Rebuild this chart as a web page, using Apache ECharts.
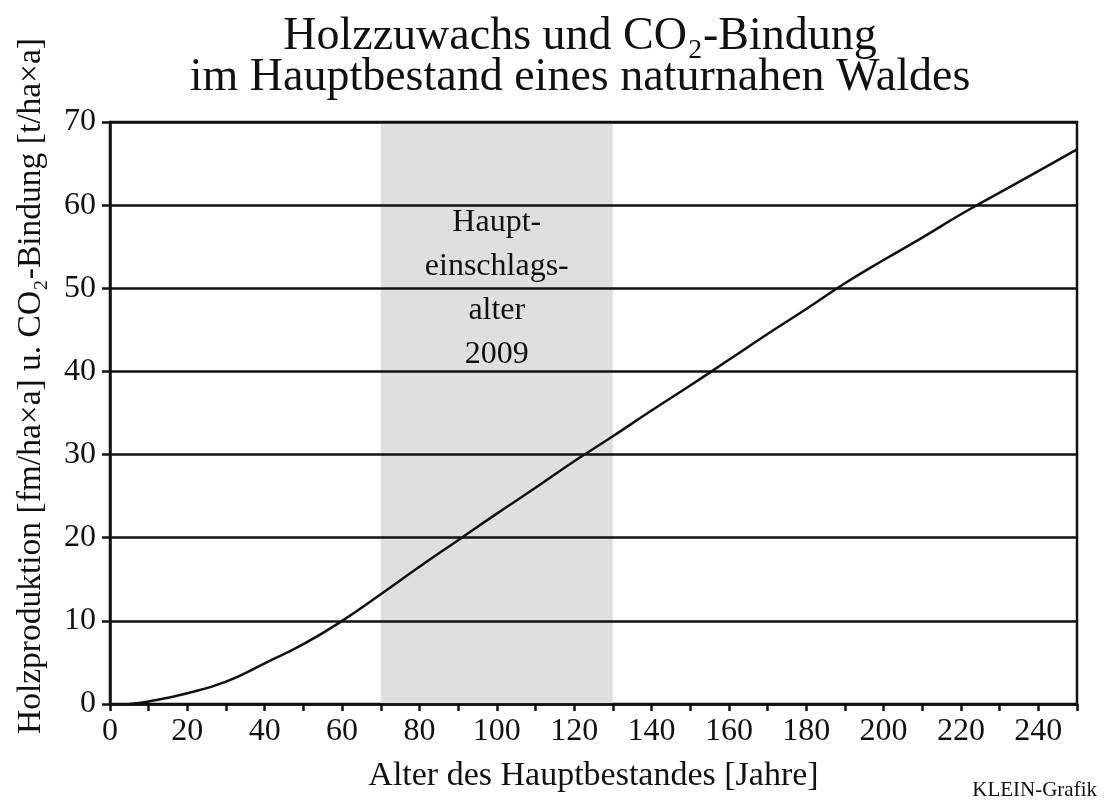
<!DOCTYPE html>
<html>
<head>
<meta charset="utf-8">
<script src="https://cdn.jsdelivr.net/npm/echarts@6/dist/echarts.min.js"></script>
<style>
html,body{margin:0;padding:0;background:#fff;}
#chart{width:1105px;height:801px;}
</style>
</head>
<body>
<div id="chart"></div>
<script>
// Data
const ages   = [5, 10, 20, 30, 40, 50, 60, 70, 80, 90, 100, 110, 120, 130, 140, 150, 160, 170, 180, 190, 200, 210, 220, 230, 240, 250];
const values = [0, 0.3, 1.3, 2.7, 4.9, 7.2, 10.0, 13.2, 16.5, 19.7, 22.9, 26.0, 29.2, 32.2, 35.3, 38.3, 41.4, 44.5, 47.5, 50.6, 53.4, 56.1, 58.9, 61.5, 64.1, 66.7];
const bandYears = [70, 130];
const bandLabel = 'Haupt-\neinschlags-\nalter\n2009';
const titleLines = ['Holzzuwachs und CO\u2082-Bindung', 'im Hauptbestand eines naturnahen Waldes'];
const xName = 'Alter des Hauptbestandes [Jahre]';
const yName = 'Holzproduktion [fm/ha\u00D7a] u. CO\u2082-Bindung [t/ha\u00D7a]';
const credit = 'KLEIN-Grafik';

const FONT = '"Liberation Serif", "Times New Roman", serif';
const chart = echarts.init(document.getElementById('chart'), null, {renderer: 'canvas'});

const option = {
  backgroundColor: '#ffffff',
  animation: false,
  textStyle: {fontFamily: FONT, color: '#111'},
  grid: {
    left: 110, right: 28, top: 122, bottom: 97,
    outerBoundsMode: 'none', containLabel: false,
    show: true, borderColor: '#111', borderWidth: 2.5, backgroundColor: 'transparent'
  },
  graphic: [
    {type: 'text', x: 580, y: 16, z: 10,
     style: {text: titleLines.join('\n'), fill: '#111', font: '46px ' + FONT, lineHeight: 41,
             align: 'center', verticalAlign: 'top'}},
    {type: 'text', x: 1097, y: 801, z: 10,
     style: {text: credit, fill: '#111', font: '21px ' + FONT, align: 'right', verticalAlign: 'bottom'}}
  ],
  xAxis: {
    type: 'value', min: 0, max: 250, interval: 10, z: 3,
    name: xName, nameLocation: 'middle', nameGap: 55,
    nameTextStyle: {fontSize: 34, fontFamily: FONT, color: '#111'},
    axisLine: {show: true, lineStyle: {color: '#111', width: 2.5}},
    axisTick: {show: true, length: 7, lineStyle: {color: '#111', width: 2.5}},
    axisLabel: {fontSize: 32, fontFamily: FONT, color: '#111', margin: 12,
      formatter: v => (v % 20 === 0 && v <= 240) ? String(v) : ''},
    splitLine: {show: false}
  },
  yAxis: {
    type: 'value', min: 0, max: 70, interval: 10, z: 3,
    name: yName, nameLocation: 'middle', nameGap: 62,
    nameTextStyle: {fontSize: 33.5, fontFamily: FONT, color: '#111', padding: [0, 0, 0, 54]},
    axisLine: {show: true, lineStyle: {color: '#111', width: 2.5}},
    axisTick: {show: true, length: 8, lineStyle: {color: '#111', width: 2.5}},
    axisLabel: {fontSize: 32, fontFamily: FONT, color: '#111', margin: 14},
    splitLine: {show: true, lineStyle: {color: '#111', width: 2.5}}
  },
  series: [
    {
      type: 'line', z: 1, data: [], silent: true,
      markArea: {
        silent: true,
        itemStyle: {color: '#dfdfdf'},
        label: {show: true, position: 'insideTop', distance: 79, fontSize: 32, lineHeight: 44,
                fontFamily: FONT, color: '#111', align: 'center'},
        data: [[{xAxis: bandYears[0], yAxis: 0, name: bandLabel}, {xAxis: bandYears[1], yAxis: 70}]]
      }
    },
    {
      type: 'line', smooth: 0.5, showSymbol: false, symbol: 'none', z: 5,
      lineStyle: {color: '#111', width: 2.5},
      data: ages.map((a, i) => [a, values[i]])
    }
  ]
};
chart.setOption(option);
</script>
</body>
</html>
